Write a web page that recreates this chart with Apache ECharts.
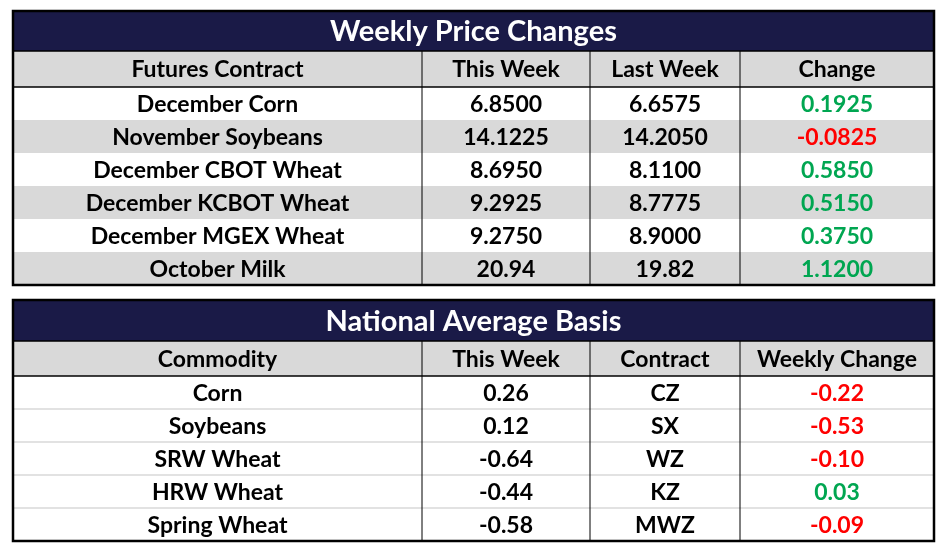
<!DOCTYPE html>
<html><head><meta charset="utf-8">
<script src="https://cdn.jsdelivr.net/npm/echarts@6/dist/echarts.min.js"></script>
<style>html,body{margin:0;padding:0;background:#fff}#c{width:946px;height:552px}</style>
</head><body><div id="c"></div>
<script>
const title1 = "Weekly Price Changes";
const headers1 = ["Futures Contract", "This Week", "Last Week", "Change"];
const contracts = ["December Corn", "November Soybeans", "December CBOT Wheat", "December KCBOT Wheat", "December MGEX Wheat", "October Milk"];
const thisWeek1 = ["6.8500", "14.1225", "8.6950", "9.2925", "9.2750", "20.94"];
const lastWeek1 = ["6.6575", "14.2050", "8.1100", "8.7775", "8.9000", "19.82"];
const change1 = ["0.1925", "-0.0825", "0.5850", "0.5150", "0.3750", "1.1200"];

const title2 = "National Average Basis";
const headers2 = ["Commodity", "This Week", "Contract", "Weekly Change"];
const commodities = ["Corn", "Soybeans", "SRW Wheat", "HRW Wheat", "Spring Wheat"];
const thisWeek2 = ["0.26", "0.12", "-0.64", "-0.44", "-0.58"];
const contract2 = ["CZ", "SX", "WZ", "KZ", "MWZ"];
const change2 = ["-0.22", "-0.53", "-0.10", "0.03", "-0.09"];

const colX = [13, 422, 590, 740, 934];
const FONT = "Lato,'Noto Sans',sans-serif";
const NAVY = "#1a1a47", GRAY = "#d9d9d9", GREEN = "#00a651", RED = "#ff0000";

function tableElems(top, titleH, headH, rowH, title, headers, cols, changeCol, alt) {
  const els = [];
  const nRows = cols[0].length;
  const W = colX[4] - colX[0];
  els.push({type:'rect', shape:{x:colX[0], y:top, width:W, height:titleH}, style:{fill:NAVY}});
  els.push({type:'text', x:(colX[0]+colX[4])/2, y:top+titleH/2+1, style:{text:title, fill:'#fff', font:"bold 29px "+FONT, align:'center', verticalAlign:'middle'}});
  let y = top + titleH;
  els.push({type:'rect', shape:{x:colX[0], y:y, width:W, height:headH}, style:{fill:GRAY}});
  headers.forEach((h,i)=>els.push({type:'text', x:(colX[i]+colX[i+1])/2, y:y+headH/2+1, style:{text:h, fill:'#000', font:"bold 23px "+FONT, align:'center', verticalAlign:'middle'}}));
  els.push({type:'line', shape:{x1:colX[0], y1:y+headH, x2:colX[4], y2:y+headH}, style:{stroke:'#000', lineWidth:1.5}});
  y += headH;
  for (let r=0;r<nRows;r++){
    const ry = y + r*rowH;
    if (alt && r%2===1) els.push({type:'rect', shape:{x:colX[0], y:ry, width:W, height:rowH}, style:{fill:GRAY}});
    if (!alt && r>0) els.push({type:'line', shape:{x1:colX[0], y1:ry, x2:colX[4], y2:ry}, style:{stroke:GRAY, lineWidth:1.5}});
    cols.forEach((col,c)=>{
      let fill = '#000';
      if (c===changeCol) fill = parseFloat(col[r])<0 ? RED : GREEN;
      els.push({type:'text', x:(colX[c]+colX[c+1])/2, y:ry+rowH/2+1, style:{text:col[r], fill:fill, font:"bold 23px "+FONT, align:'center', verticalAlign:'middle'}});
    });
  }
  const bottom = y + nRows*rowH;
  for (let c=1;c<4;c++) els.push({type:'line', shape:{x1:colX[c], y1:top+titleH, x2:colX[c], y2:bottom}, style:{stroke:'#000', lineWidth:1}});
  els.push({type:'rect', shape:{x:colX[0], y:top, width:W, height:bottom-top}, style:{fill:'none', stroke:'#000', lineWidth:2.5}});
  els.push({type:'line', shape:{x1:colX[0], y1:top+titleH, x2:colX[4], y2:top+titleH}, style:{stroke:'#000', lineWidth:1.5}});
  return els;
}

const chart = echarts.init(document.getElementById('c'), null, {renderer:'canvas'});
const elements = [].concat(
  tableElems(11, 40, 36, 33, title1, headers1, [contracts, thisWeek1, lastWeek1, change1], 3, true),
  tableElems(300, 41, 35, 33, title2, headers2, [commodities, thisWeek2, contract2, change2], 3, false)
);
chart.setOption({
  animation:false,
  xAxis:{type:'value', min:0, max:946, show:false},
  yAxis:{type:'value', min:0, max:552, inverse:true, show:false},
  grid:{left:0, right:0, top:0, bottom:0},
  series:[{type:'custom', coordinateSystem:'none', data:[0], renderItem:()=>({type:'group', children:elements})}]
});
</script></body></html>
